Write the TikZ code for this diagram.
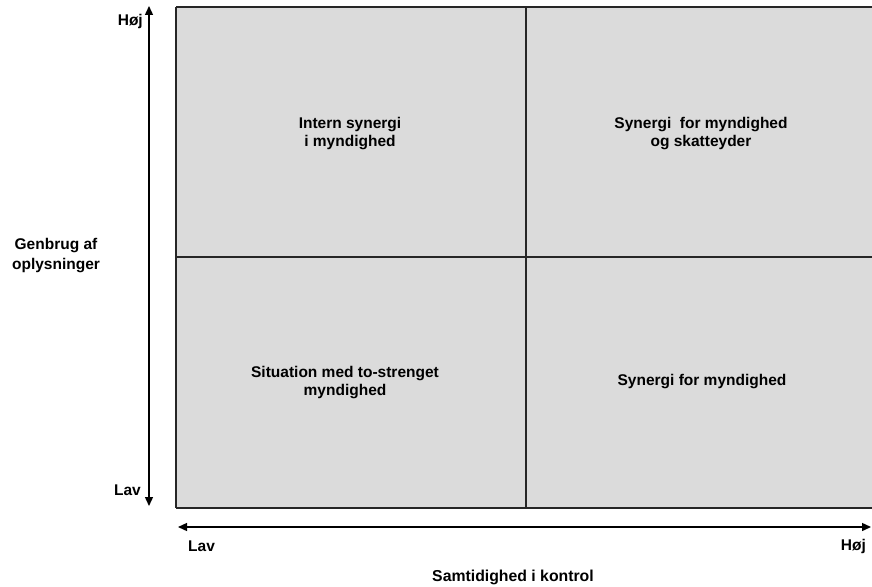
\documentclass[tikz,border=0pt]{standalone}
\usepackage{fontspec}
\setmainfont{Liberation Sans}
\usetikzlibrary{arrows.meta}
\begin{document}
\begin{tikzpicture}[x=1pt,y=-1pt,
  lbl/.style={font=\fontsize{15.5}{18}\selectfont\bfseries, inner sep=0pt, align=center},
  quad/.style={fill=gray!28, draw=none},
  grid/.style={draw=black!85, line width=2pt},
  axis/.style={draw=black, line width=1.4pt, {Triangle[length=9pt,width=8pt]}-{Triangle[length=9pt,width=8pt]}}]
  \useasboundingbox (0,0) rectangle (872,586);
  \begin{scope}
    \clip (0,0) rectangle (872,586);
    % quadrant field
    \fill[quad] (176,7) rectangle (880,508);
    \draw[grid] (176,7) -- (880,7);
    \draw[grid] (176,508) -- (880,508);
    \draw[grid] (176,7) -- (176,508);
    \draw[grid] (526,7) -- (526,508);
    \draw[grid] (176,257) -- (880,257);
  \end{scope}
  % axes
  \coordinate (vtop) at (149,6);
  \coordinate (vbot) at (149,506);
  \coordinate (hleft) at (178,527);
  \coordinate (hright) at (871,527);
  \draw[axis] (vbot) -- (vtop);
  \draw[axis] (hleft) -- (hright);
  % axis labels
  \node[lbl, anchor=east] (yhi) at (143,21) {Høj};
  \node[lbl, anchor=east] (ylo) at (141,490) {Lav};
  \node[lbl, font=\fontsize{15.5}{20}\selectfont\bfseries] (ytitle) at (56,256) {Genbrug af\\oplysninger};
  \node[lbl, anchor=west] (xlo) at (188,546) {Lav};
  \node[lbl, anchor=east] (xhi) at (866,546) {Høj};
  \node[lbl, font=\fontsize{15.8}{18}\selectfont\bfseries] (xtitle) at (513,577) {Samtidighed i kontrol};
  % quadrant texts
  \node[lbl] (q1) at (350,134) {Intern synergi\\ i myndighed};
  \node[lbl] (q2) at (701,134) {Synergi\ \ for myndighed\\og skatteyder};
  \node[lbl] (q3) at (345,383) {Situation med to-strenget\\myndighed};
  \node[lbl] (q4) at (702,382) {Synergi for myndighed};
\end{tikzpicture}
\end{document}
